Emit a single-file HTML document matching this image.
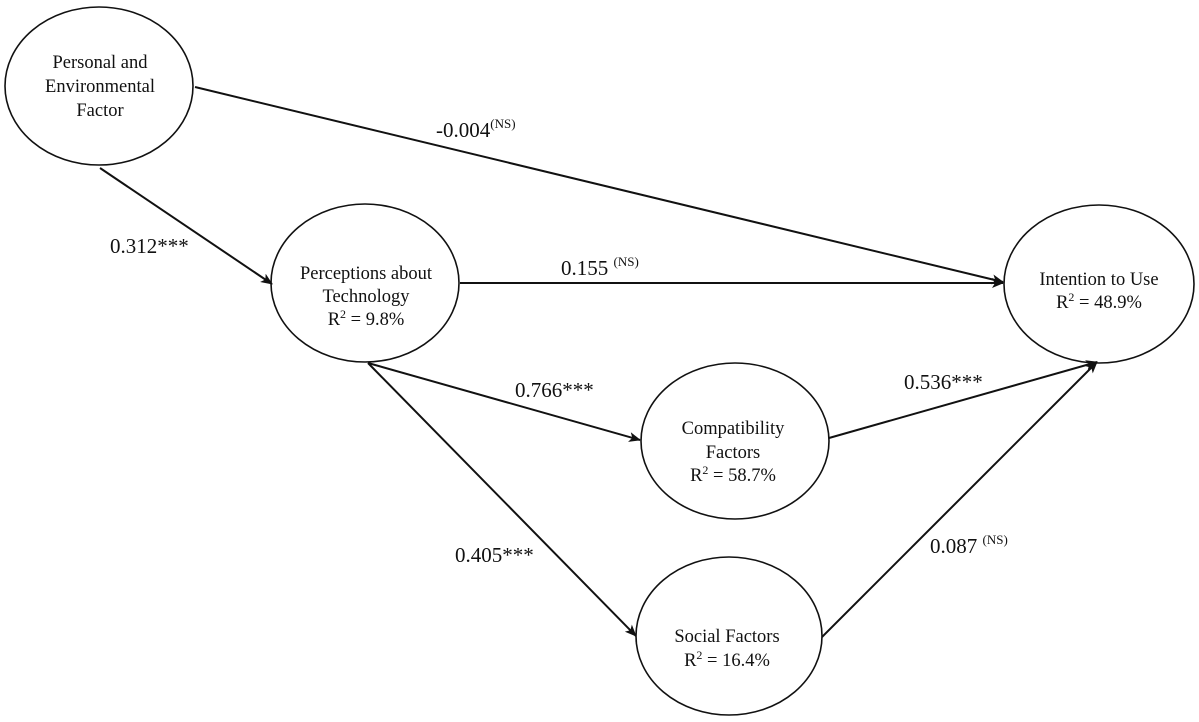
<!DOCTYPE html>
<html><head><style>body{margin:0;background:#fff}svg{display:block}text{font-family:"Liberation Serif",serif;fill:#111}</style></head>
<body>
<svg width="1199" height="722" viewBox="0 0 1199 722" xmlns="http://www.w3.org/2000/svg">
<defs><marker id="a" markerWidth="12" markerHeight="10" refX="11" refY="5" orient="auto" markerUnits="userSpaceOnUse"><path d="M0,0 L12,5 L0,10 L3,5 Z" fill="#111"/></marker></defs>
<g fill="none" stroke="#111" stroke-width="1.6">
<ellipse cx="99" cy="86" rx="94" ry="79"/>
<ellipse cx="365" cy="283" rx="94" ry="79"/>
<ellipse cx="1099" cy="284" rx="95" ry="79"/>
<ellipse cx="735" cy="441" rx="94" ry="78"/>
<ellipse cx="729" cy="636" rx="93" ry="79"/>
</g>
<g stroke="#111" stroke-width="2" marker-end="url(#a)">
<line x1="195" y1="87" x2="1003" y2="282"/>
<line x1="100" y1="168" x2="272" y2="284"/>
<line x1="460" y1="283" x2="1003" y2="283"/>
<line x1="368" y1="363" x2="640" y2="440"/>
<line x1="368" y1="363" x2="636" y2="636"/>
<line x1="829" y1="438" x2="1097" y2="362"/>
<line x1="822" y1="637" x2="1097" y2="362"/>
</g>
<g font-size="18.5" text-anchor="middle">
<text x="100" y="68">Personal and</text>
<text x="100" y="92">Environmental</text>
<text x="100" y="116">Factor</text>
<text x="366" y="279">Perceptions about</text>
<text x="366" y="302">Technology</text>
<text x="366" y="325">R<tspan font-size="12" dy="-7">2</tspan><tspan dy="7"> = 9.8%</tspan></text>
<text x="1099" y="285">Intention to Use</text>
<text x="1099" y="308">R<tspan font-size="12" dy="-7">2</tspan><tspan dy="7"> = 48.9%</tspan></text>
<text x="733" y="434">Compatibility</text>
<text x="733" y="458">Factors</text>
<text x="733" y="481">R<tspan font-size="12" dy="-7">2</tspan><tspan dy="7"> = 58.7%</tspan></text>
<text x="727" y="642">Social Factors</text>
<text x="727" y="666">R<tspan font-size="12" dy="-7">2</tspan><tspan dy="7"> = 16.4%</tspan></text>
</g>
<g font-size="21">
<text x="436" y="137">-0.004<tspan font-size="13" dy="-9">(NS)</tspan></text>
<text x="110" y="253">0.312***</text>
<text x="561" y="275">0.155 <tspan font-size="13" dy="-9">(NS)</tspan></text>
<text x="515" y="397">0.766***</text>
<text x="904" y="389">0.536***</text>
<text x="455" y="562">0.405***</text>
<text x="930" y="553">0.087 <tspan font-size="13" dy="-9">(NS)</tspan></text>
</g>
</svg>
</body></html>
